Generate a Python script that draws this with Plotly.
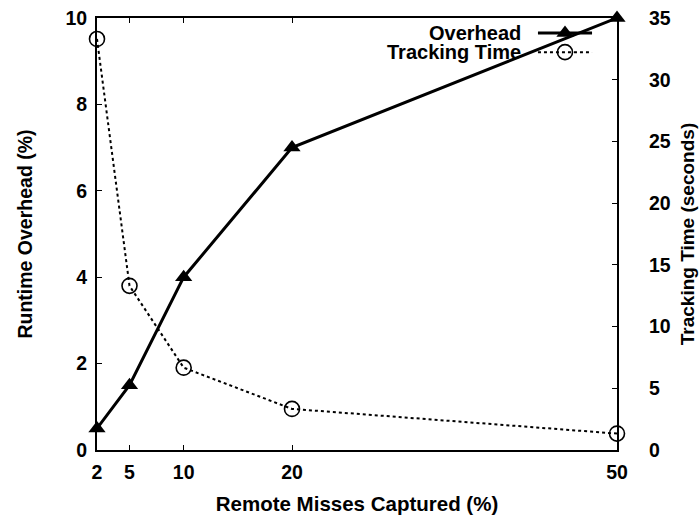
import plotly.graph_objects as go

# ---- data ----
x_vals = [2, 5, 10, 20, 50]
overhead = [0.5, 1.5, 4, 7, 10]
tracking_time = [33.3, 13.3, 6.67, 3.33, 1.33]
x_ticks = [2, 5, 10, 20, 50]
left_ticks = [0, 2, 4, 6, 8, 10]
right_ticks = [0, 5, 10, 15, 20, 25, 30, 35]
series_names = ["Overhead", "Tracking Time"]

FONT = "Liberation Sans"
BLACK = "black"

fig = go.Figure()

fig.add_trace(go.Scatter(
    x=x_vals, y=overhead, mode="lines+markers", name=series_names[0],
    line=dict(color=BLACK, width=3),
    marker=dict(symbol="triangle-up", size=15, color=BLACK),
    cliponaxis=False, showlegend=False, xaxis="x", yaxis="y"))

fig.add_trace(go.Scatter(
    x=x_vals, y=tracking_time, mode="lines+markers", name=series_names[1],
    line=dict(color=BLACK, width=2, dash="dot"),
    marker=dict(symbol="circle-open", size=15, color=BLACK, line=dict(width=1.6)),
    cliponaxis=False, showlegend=False, xaxis="x", yaxis="y2"))

# ---- legend samples (gnuplot style: text left, sample right) ----
leg_x = [0.848, 0.952]
leg_y = [0.965, 0.921]
fig.add_trace(go.Scatter(x=leg_x, y=[leg_y[0]] * 2, mode="lines",
                         line=dict(color=BLACK, width=3), showlegend=False,
                         hoverinfo="skip", xaxis="x2", yaxis="y3", cliponaxis=False))
fig.add_trace(go.Scatter(x=[sum(leg_x) / 2], y=[leg_y[0]], mode="markers",
                         marker=dict(symbol="triangle-up", size=15, color=BLACK),
                         showlegend=False, hoverinfo="skip", xaxis="x2", yaxis="y3", cliponaxis=False))
fig.add_trace(go.Scatter(x=leg_x, y=[leg_y[1]] * 2, mode="lines",
                         line=dict(color=BLACK, width=2, dash="dot"), showlegend=False,
                         hoverinfo="skip", xaxis="x2", yaxis="y3", cliponaxis=False))
fig.add_trace(go.Scatter(x=[sum(leg_x) / 2], y=[leg_y[1]], mode="markers",
                         marker=dict(symbol="circle-open", size=15, color=BLACK, line=dict(width=1.6)),
                         showlegend=False, hoverinfo="skip", xaxis="x2", yaxis="y3", cliponaxis=False))

for name, yy in zip(series_names, leg_y):
    fig.add_annotation(x=0.82, y=yy, xref="paper", yref="paper", text=f"<b>{name}</b>",
                       showarrow=False, xanchor="right", yanchor="middle",
                       font=dict(family=FONT, size=20, color=BLACK))

tickfont = dict(family=FONT, size=19.5, color=BLACK)

fig.update_layout(
    width=700, height=516,
    margin=dict(l=97, r=83, t=18, b=66),
    paper_bgcolor="white", plot_bgcolor="white",
    showlegend=False,
    xaxis=dict(range=[2, 50], tickmode="array", tickvals=x_ticks,
               ticktext=[f"<b>{t}</b>" for t in x_ticks], automargin=False,
               ticks="inside", ticklen=5, tickwidth=1, tickcolor=BLACK,
               showline=True, linecolor=BLACK, linewidth=2, mirror="ticks",
               showgrid=False, zeroline=False, tickfont=tickfont, ticklabelstandoff=4,
               title=dict(text="<b>Remote Misses Captured (%)</b>",
                          font=dict(family=FONT, size=20.5, color=BLACK), standoff=14)),
    yaxis=dict(range=[0, 10], tickmode="array", tickvals=left_ticks,
               ticktext=[f"<b>{t}</b>" for t in left_ticks], automargin=False,
               ticks="inside", ticklen=5, tickwidth=1, tickcolor=BLACK,
               showline=True, linecolor=BLACK, linewidth=2,
               showgrid=False, zeroline=False, tickfont=tickfont, ticklabelstandoff=4,
               title=dict(text="<b>Runtime Overhead (%)</b>",
                          font=dict(family=FONT, size=19.5, color=BLACK), standoff=28)),
    yaxis2=dict(range=[0, 35], tickmode="array", tickvals=right_ticks,
                ticktext=[f"<b>{t}</b>" for t in right_ticks], automargin=False,
                overlaying="y", side="right", anchor="x",
                ticks="inside", ticklen=5, tickwidth=1, tickcolor=BLACK,
                showline=True, linecolor=BLACK, linewidth=2,
                showgrid=False, zeroline=False, tickfont=tickfont, ticklabelstandoff=26,
                title=dict(text="<b>Tracking Time (seconds)</b>",
                           font=dict(family=FONT, size=19, color=BLACK), standoff=11)),
    xaxis2=dict(range=[0, 1], overlaying="x", visible=False, anchor="y3"),
    yaxis3=dict(range=[0, 1], overlaying="y", visible=False, anchor="x2"),
)

fig.write_html("out.html")
